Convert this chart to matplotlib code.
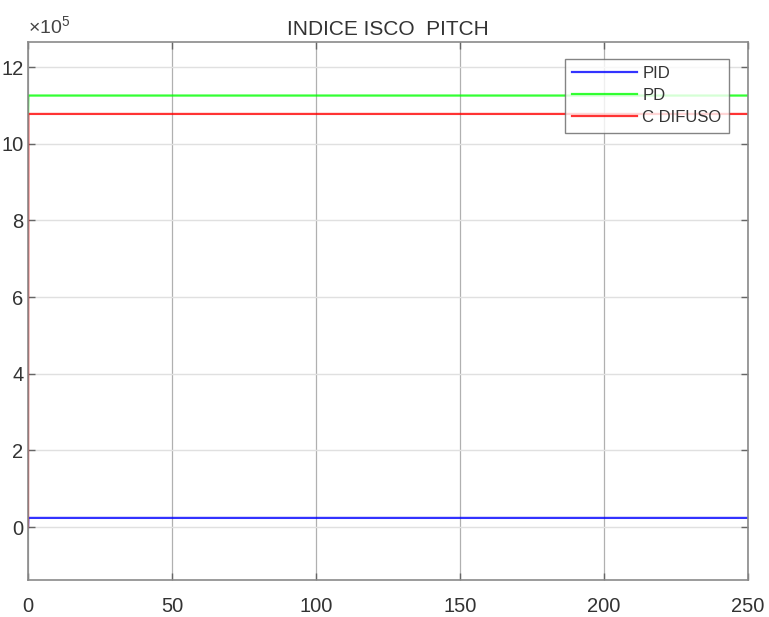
import matplotlib
matplotlib.use("Agg")
import matplotlib.pyplot as plt
from matplotlib.ticker import FuncFormatter

# ---- data ----
time = [0, 0.1, 250]
pid = [0.0, 0.24e5, 0.24e5]
pd_vals = [1.078e6, 1.126e6, 1.126e6]
c_difuso = [0.0, 1.078e6, 1.078e6]
series_names = ["PID", "PD", "C DIFUSO"]
series_colors = ["#0000ff", "#00ff00", "#ff0000"]
title_text = "INDICE ISCO  PITCH"
x_ticks = [0, 50, 100, 150, 200, 250]
y_ticks = [0, 2e5, 4e5, 6e5, 8e5, 10e5, 12e5]
y_scale = 1e5

plt.rcParams['font.family'] = ['Liberation Sans', 'DejaVu Sans']
plt.rcParams['mathtext.fontset'] = 'custom'
plt.rcParams['mathtext.rm'] = 'Liberation Sans'
plt.rcParams['mathtext.it'] = 'Liberation Sans'

W, H = 769, 617
fig = plt.figure(figsize=(W / 100, H / 100), dpi=100)
ax = fig.add_axes([28 / W, 37 / H, 720 / W, 538.5 / H])

for vals, name, col in zip([pid, pd_vals, c_difuso], series_names, series_colors):
    ax.plot(time, vals, color=col, lw=1.6, label=name, alpha=0.8)

ax.set_xlim(0, 250)
ax.set_ylim(-1.38e5, 12.67e5)
ax.set_xticks(x_ticks)
ax.set_yticks(y_ticks)
ax.yaxis.set_major_formatter(FuncFormatter(lambda v, p: f"{v / y_scale:g}"))

ax.grid(True, axis='x', color='#b0b0b0', lw=0.9)
ax.grid(True, axis='y', color='#e0e0e0', lw=1.0)
ax.set_axisbelow(True)

for s in ax.spines.values():
    s.set_color('#8a8a8a')
    s.set_linewidth(1.2)
ax.tick_params(direction='in', length=5, width=1, color='#666666',
               top=True, right=True, labelsize=14.5, labelcolor='#333333')
ax.tick_params(axis='y', pad=3.2)
ax.tick_params(axis='x', pad=12)

ax.set_title(title_text, fontsize=15, color='#333333', pad=5)

ax.annotate(r'$\times10^{5}$', xy=(0, 1), xycoords='axes fraction',
            xytext=(0, 3), textcoords='offset points', fontsize=14,
            color='#444444', ha='left', va='bottom')

leg = ax.legend(loc='upper right', bbox_to_anchor=(0.9736, 0.968), fontsize=12,
                frameon=True, fancybox=False, edgecolor='#666666',
                handlelength=3.9, handletextpad=0.3, labelspacing=0.42,
                borderpad=0.45, borderaxespad=0)
leg.get_frame().set_linewidth(1.0)
for t in leg.get_texts():
    t.set_color('#333333')

fig.savefig("out.png", dpi=100)
